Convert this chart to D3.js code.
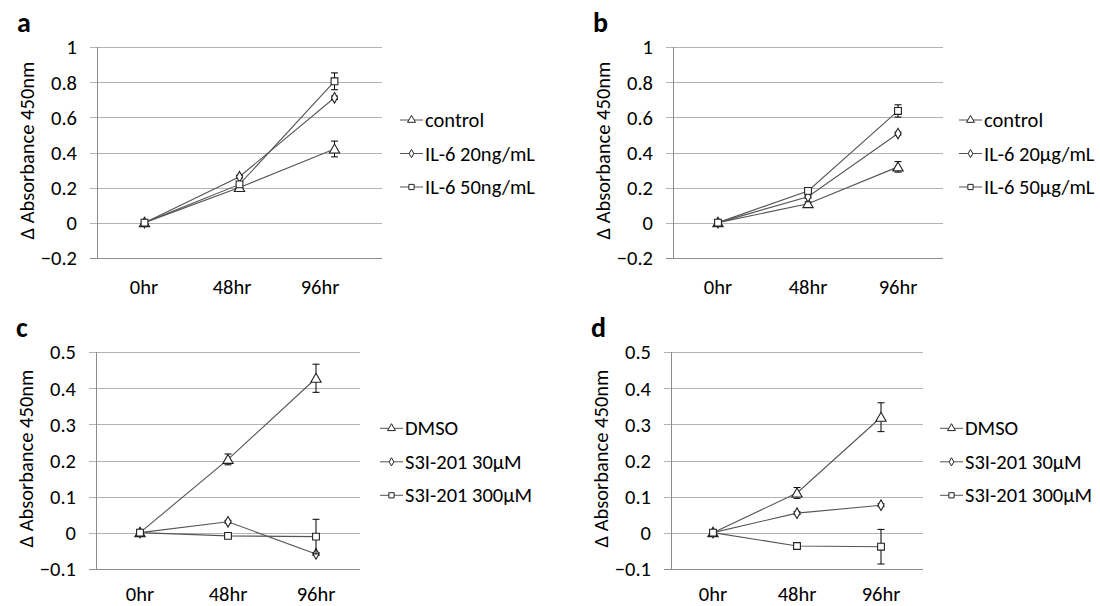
<!DOCTYPE html>
<html>
<head>
<meta charset="utf-8">
<script src="https://cdn.jsdelivr.net/npm/d3@7"></script>
<style>
  body { margin: 0; background: #fff; }
  svg { display: block; }
  text { font-family: Carlito, Calibri, Lato, sans-serif; fill: #000; }
</style>
</head>
<body>
<svg id="chart" width="1100" height="606"></svg>
<script>
// time points shared by all four panels
const timepoints = ['0hr', '48hr', '96hr'];

// panel a: IL-6 (ng/mL)
const aNames = ['control', 'IL-6 20ng/mL', 'IL-6 50ng/mL'];
const aControl = [0, 0.2, 0.42];
const aControlErr = [0.006, 0.012, 0.045];
const aIl20 = [0, 0.262, 0.712];
const aIl20Err = [0.004, 0.008, 0.01];
const aIl50 = [0, 0.218, 0.806];
const aIl50Err = [0.006, 0.015, 0.048];

// panel b: IL-6 (ug/mL)
const bNames = ['control', 'IL-6 20μg/mL', 'IL-6 50μg/mL'];
const bControl = [0, 0.108, 0.318];
const bControlErr = [0.005, 0.01, 0.03];
const bIl20 = [0, 0.148, 0.508];
const bIl20Err = [0.004, 0.008, 0.008];
const bIl50 = [0, 0.181, 0.637];
const bIl50Err = [0.006, 0.015, 0.035];

// panel c: S3I-201 vs DMSO
const cNames = ['DMSO', 'S3I-201 30μM', 'S3I-201 300μM'];
const cDmso = [0, 0.203, 0.428];
const cDmsoErr = [0.003, 0.015, 0.039];
const cS30 = [0, 0.03, -0.059];
const cS30Err = [0.002, 0.004, 0.004];
const cS300 = [0, -0.009, -0.011];
const cS300Err = [0.002, 0.004, 0.048];

// panel d
const dNames = ['DMSO', 'S3I-201 30μM', 'S3I-201 300μM'];
const dDmso = [0, 0.11, 0.32];
const dDmsoErr = [0.003, 0.015, 0.04];
const dS30 = [0, 0.054, 0.076];
const dS30Err = [0.002, 0.004, 0.004];
const dS300 = [0, -0.037, -0.039];
const dS300Err = [0.002, 0.004, 0.048];

const yTicksTop = [-0.2, 0, 0.2, 0.4, 0.6, 0.8, 1];
const yTicksBottom = [-0.1, 0, 0.1, 0.2, 0.3, 0.4, 0.5];

const symbols = [d3.symbolTriangle, d3.symbolDiamond, d3.symbolSquare];
const symbolSize = [46, 32, 46];

const panels = [
  { letter: 'a', names: aNames, values: [aControl, aIl20, aIl50], errs: [aControlErr, aIl20Err, aIl50Err],
    ticks: yTicksTop, left: 97, right: 382, top: 47.3, bottom: 257.7, labelRange: [100, 364], labelY: 287,
    legendX: 400, legendY: 120 },
  { letter: 'b', names: bNames, values: [bControl, bIl20, bIl50], errs: [bControlErr, bIl20Err, bIl50Err],
    ticks: yTicksTop, left: 673, right: 943, top: 47.3, bottom: 257.7, labelY: 287,
    legendX: 959, legendY: 120 },
  { letter: 'c', names: cNames, values: [cDmso, cS30, cS300], errs: [cDmsoErr, cS30Err, cS300Err],
    ticks: yTicksBottom, left: 96, right: 360, top: 352.3, bottom: 568.7, labelY: 594,
    legendX: 380, legendY: 428.3 },
  { letter: 'd', names: dNames, values: [dDmso, dS30, dS300], errs: [dDmsoErr, dS30Err, dS300Err],
    ticks: yTicksBottom, left: 671, right: 923, top: 352.3, bottom: 568.7, labelY: 594,
    legendX: 940, legendY: 428.3 }
];

const svg = d3.select('#chart');
const FONT = 20.5;

panels.forEach((p) => {
  const g = svg.append('g').attr('class', 'panel ' + p.letter);

  const x = d3.scaleBand().domain(timepoints).range([p.left, p.right]);
  const xLabel = p.labelRange
    ? d3.scaleBand().domain(timepoints).range(p.labelRange)
    : x;
  const y = d3.scaleLinear()
    .domain(d3.extent(p.ticks))
    .range([p.bottom, p.top]);

  // gridlines (with small ticks sticking out left of the axis)
  g.append('g')
    .attr('transform', `translate(${p.left},0)`)
    .call(d3.axisLeft(y).tickValues(p.ticks).tickSize(-(p.right - p.left)).tickFormat(''))
    .call((s) => s.select('.domain').remove())
    .call((s) => s.selectAll('.tick line')
      .attr('x1', -7)
      .attr('stroke', (d) => d === p.ticks[0] ? '#8c8c8c' : '#b3b3b3')
      .attr('shape-rendering', 'crispEdges'));

  // y axis line
  g.append('line')
    .attr('x1', p.left).attr('x2', p.left)
    .attr('y1', p.top).attr('y2', p.bottom)
    .attr('stroke', '#8c8c8c')
    .attr('shape-rendering', 'crispEdges');

  // y tick labels
  g.selectAll('.ylab')
    .data(p.ticks)
    .join('text')
      .attr('class', 'ylab')
      .attr('x', p.left - 20)
      .attr('y', (d) => y(d))
      .attr('dy', '0.35em')
      .attr('text-anchor', 'end')
      .style('font-size', FONT + 'px')
      .text((d) => d3.format('')(+d.toFixed(1)));

  // x labels
  g.selectAll('.xlab')
    .data(timepoints)
    .join('text')
      .attr('class', 'xlab')
      .attr('x', (d) => xLabel(d) + xLabel.bandwidth() / 2)
      .attr('y', p.labelY)
      .attr('dy', '0.35em')
      .attr('text-anchor', 'middle')
      .style('font-size', FONT + 'px')
      .text((d) => d);

  // y axis title
  const cy = (p.top + p.bottom) / 2 - 2;
  const tx = p.left - 70;
  g.append('text')
    .attr('transform', `translate(${tx},${cy}) rotate(-90)`)
    .attr('text-anchor', 'middle')
    .attr('dy', '0.35em')
    .style('font-size', FONT + 'px')
    .text('Δ Absorbance 450nm');

  // panel letter
  g.append('text')
    .attr('x', p.left - 80)
    .attr('y', p.top - 15)
    .style('font-size', '28px')
    .style('font-weight', 'bold')
    .text(p.letter);

  const cx = (d) => x(d) + x.bandwidth() / 2;
  const line = d3.line().x((d, i) => cx(timepoints[i])).y((d) => y(d));

  p.values.forEach((vals, si) => {
    const s = g.append('g').attr('class', 'series s' + si);

    s.append('path')
      .attr('d', line(vals))
      .attr('fill', 'none')
      .attr('stroke', '#555')
      .attr('stroke-width', 1.1);

    // error bars
    const errs = p.errs[si];
    vals.forEach((v, i) => {
      const px = cx(timepoints[i]);
      const y1 = y(v + errs[i]);
      const y2 = y(v - errs[i]);
      s.append('line')
        .attr('x1', px).attr('x2', px).attr('y1', y1).attr('y2', y2)
        .attr('stroke', '#000').attr('stroke-width', 1);
      [y1, y2].forEach((yy) => {
        s.append('line')
          .attr('x1', px - 3.5).attr('x2', px + 3.5).attr('y1', yy).attr('y2', yy)
          .attr('stroke', '#000').attr('stroke-width', 1);
      });
    });

    s.selectAll('.pt')
      .data(vals)
      .join('path')
        .attr('class', 'pt')
        .attr('d', d3.symbol().type(symbols[si]).size(symbolSize[si]))
        .attr('transform', (d, i) => `translate(${cx(timepoints[i])},${y(d) + (si === 0 ? 1 : 0)})`)
        .attr('fill', '#fff')
        .attr('stroke', '#222')
        .attr('stroke-width', 1.1);
  });

  // legend
  const leg = g.append('g').attr('class', 'legend');
  p.names.forEach((name, si) => {
    const ly = p.legendY + si * 33.5;
    leg.append('line')
      .attr('x1', p.legendX).attr('x2', p.legendX + 23)
      .attr('y1', ly).attr('y2', ly)
      .attr('stroke', '#555').attr('stroke-width', 1);
    leg.append('path')
      .attr('d', d3.symbol().type(symbols[si]).size(symbolSize[si] * 0.6))
      .attr('transform', `translate(${p.legendX + 11.5},${ly})`)
      .attr('fill', '#fff').attr('stroke', '#222').attr('stroke-width', 1);
    leg.append('text')
      .attr('x', p.legendX + 25)
      .attr('y', ly)
      .attr('dy', '0.35em')
      .style('font-size', FONT + 'px')
      .text(name);
  });
});
</script>
</body>
</html>
